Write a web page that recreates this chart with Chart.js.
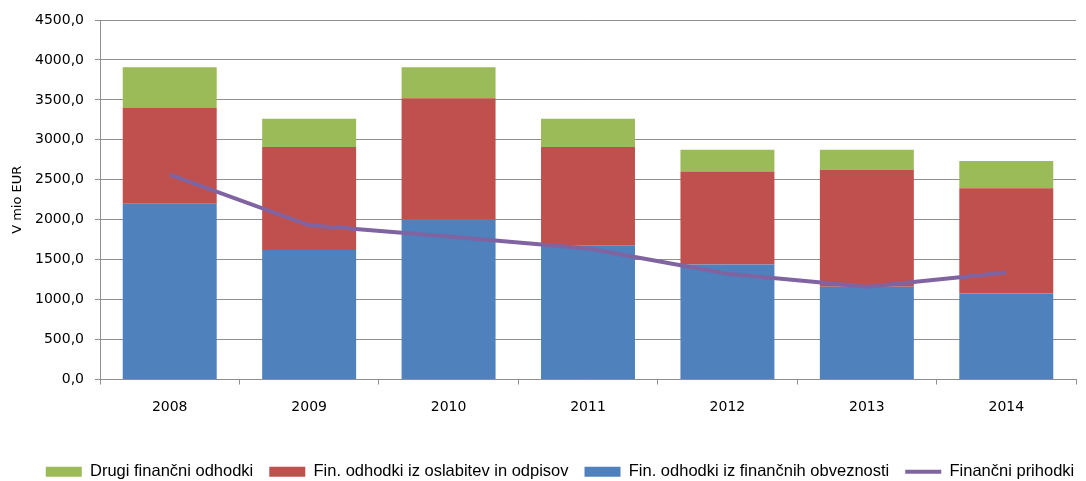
<!DOCTYPE html>
<html>
<head>
<meta charset="utf-8">
<script src="https://cdn.jsdelivr.net/npm/chart.js@4/dist/chart.umd.min.js"></script>
<style>
html,body{margin:0;padding:0;background:#fff;}
#wrap{width:1086px;height:481px;position:relative;}
</style>
</head>
<body>
<div id="wrap"><canvas id="c" width="1086" height="481"></canvas></div>
<script>
const categories = ['2008','2009','2010','2011','2012','2013','2014'];
const finObveznosti = [2200, 1620, 2000, 1680, 1440, 1160, 1075];
const finOslabitev  = [1200, 1290, 1520, 1230, 1165, 1465, 1320];
const drugiOdhodki  = [510, 355, 390, 355, 270, 250, 340];
const financniPrihodki = [2565, 1930, 1790, 1640, 1325, 1160, 1340];
const seriesNames = ['Fin. odhodki iz finančnih obveznosti','Fin. odhodki iz oslabitev in odpisov','Drugi finančni odhodki','Finančni prihodki'];
const yTitle = 'V mio EUR';

const gridCol = '#8f8f8f';
const legendRank = [2, 1, 0, 3];

const legendShift = {
  id: 'legendShift',
  afterLayout(chart) {
    const lg = chart.legend;
    if (lg) { lg.left += 22; lg.right += 22; }
  }
};

new Chart(document.getElementById('c'), {
  type: 'bar',
  data: {
    labels: categories,
    datasets: [
      {label: seriesNames[0], data: finObveznosti, backgroundColor: '#4F81BD', stack: 's', order: 1},
      {label: seriesNames[1], data: finOslabitev, backgroundColor: '#C0504D', stack: 's', order: 1},
      {label: seriesNames[2], data: drugiOdhodki, backgroundColor: '#9BBB59', stack: 's', order: 1},
      {label: seriesNames[3], data: financniPrihodki, type: 'line', borderColor: '#8064A2', backgroundColor: '#8064A2',
       borderWidth: 4, pointRadius: 0, pointHoverRadius: 0, tension: 0, stack: 'line', order: 0}
    ]
  },
  plugins: [legendShift],
  options: {
    responsive: false,
    animation: false,
    layout: {padding: {left: 0, right: 10, top: 20, bottom: -9}},
    datasets: {bar: {categoryPercentage: 1, barPercentage: 0.674, borderWidth: 0}},
    plugins: {
      tooltip: {enabled: false},
      legend: {
        position: 'bottom',
        labels: {
          font: {family: '"Liberation Sans", Arial, sans-serif', size: 16.5},
          color: '#000',
          usePointStyle: true,
          pointStyleWidth: 36,
          boxHeight: 10,
          padding: 16,
          sort: (a, b) => legendRank[a.datasetIndex] - legendRank[b.datasetIndex],
          generateLabels: function(chart) {
            const items = Chart.defaults.plugins.legend.labels.generateLabels(chart);
            items.forEach(it => {
              if (it.datasetIndex === 3) {
                it.pointStyle = 'line';
                it.lineWidth = 4;
                it.strokeStyle = '#8064A2';
              } else {
                it.pointStyle = 'rect';
                it.lineWidth = 0;
              }
            });
            return items;
          }
        }
      }
    },
    scales: {
      x: {
        stacked: true,
        grid: {drawOnChartArea: false, drawTicks: true, tickLength: 5, color: gridCol, offset: true},
        border: {color: gridCol, width: 1},
        ticks: {font: {family: '"DejaVu Sans", sans-serif', size: 14}, color: '#000', padding: 14},
        afterFit: function(scale) { scale.height = 68; }
      },
      y: {
        stacked: true,
        min: 0, max: 4500,
        ticks: {stepSize: 500, font: {family: '"DejaVu Sans", sans-serif', size: 14}, color: '#000', padding: 11,
          callback: v => Number(v).toFixed(1).replace('.', ',')},
        grid: {color: gridCol, lineWidth: 1, tickLength: 5, drawTicks: true},
        border: {color: gridCol, width: 1},
        title: {display: true, text: yTitle, font: {family: '"DejaVu Sans", sans-serif', size: 13}, color: '#000', padding: {top: 10, bottom: 0}},
        afterFit: function(scale) { scale.width = 100; }
      }
    }
  }
});
</script>
</body>
</html>
